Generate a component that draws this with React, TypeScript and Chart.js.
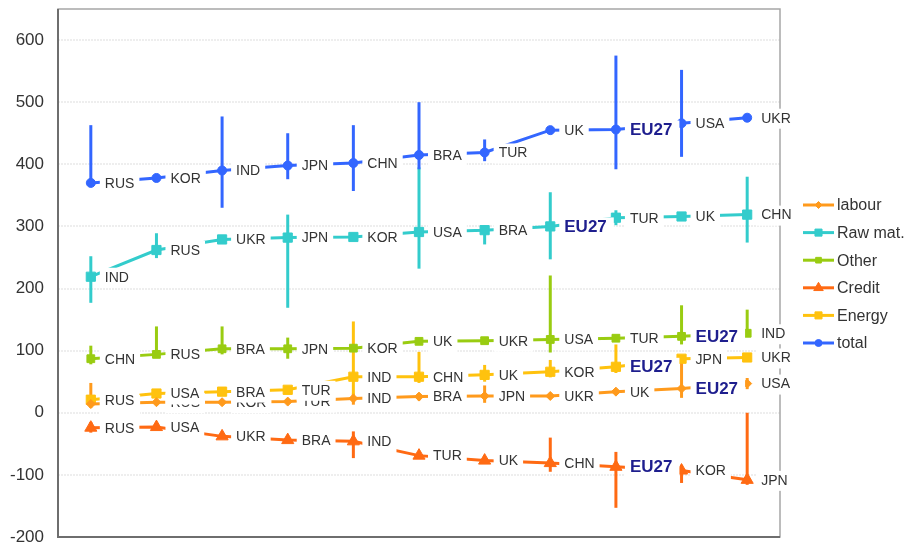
import React, { useEffect, useRef } from 'react';
import { Chart, registerables } from 'chart.js';
import { drawPoint } from 'chart.js/helpers';

Chart.register(...registerables);

const FONT = '"Liberation Sans", Arial, sans-serif';

const slots = ['1', '2', '3', '4', '5', '6', '7', '8', '9', '10', '11'];
const yTicks = [-200, -100, 0, 100, 200, 300, 400, 500, 600];

const labourNames = ['CHN', 'RUS', 'KOR', 'TUR', 'IND', 'BRA', 'JPN', 'UKR', 'UK', 'EU27', 'USA'];
const labourValues = [14, 17, 17, 18, 23, 26, 27, 27, 34, 39, 47];
const labourHigh = [48, 20, 20, 21, 31, 31, 44, 30, 37, 90, 56];
const labourLow = [8, 14, 14, 15, 13, 20, 16, 24, 31, 24, 38];

const rawNames = ['IND', 'RUS', 'UKR', 'JPN', 'KOR', 'USA', 'BRA', 'EU27', 'TUR', 'UK', 'CHN'];
const rawValues = [219, 262, 279, 282, 283, 291, 294, 300, 314, 316, 319];
const rawHigh = [252, 289, 281, 319, 285, 395, 302, 355, 326, 318, 380];
const rawLow = [177, 249, 277, 169, 281, 232, 271, 247, 302, 314, 274];

const otherNames = ['CHN', 'RUS', 'BRA', 'JPN', 'KOR', 'UK', 'UKR', 'USA', 'TUR', 'EU27', 'IND'];
const otherValues = [87, 94, 103, 103, 104, 115, 116, 118, 120, 123, 128];
const otherHigh = [108, 139, 139, 121, 106, 117, 118, 221, 122, 173, 166];
const otherLow = [78, 92, 94, 87, 102, 113, 114, 97, 118, 110, 124];

const creditNames = ['RUS', 'USA', 'UKR', 'BRA', 'IND', 'TUR', 'UK', 'CHN', 'EU27', 'KOR', 'JPN'];
const creditValues = [-24, -23, -38, -44, -46, -69, -77, -81, -87, -93, -108];
const creditHigh = [-15, -19, -35, -41, -30, -66, -74, -40, -63, -84, 0];
const creditLow = [-32, -28, -41, -47, -73, -72, -80, -95, -153, -113, -116];

const energyNames = ['RUS', 'USA', 'BRA', 'TUR', 'IND', 'CHN', 'UK', 'KOR', 'EU27', 'JPN', 'UKR'];
const energyValues = [21, 31, 34, 37, 58, 58, 61, 66, 74, 87, 89];
const energyHigh = [24, 37, 37, 39, 147, 98, 77, 85, 110, 90, 90];
const energyLow = [12, 26, 31, 35, 20, 48, 50, 57, 64, 84, 88];

const totalNames = ['RUS', 'KOR', 'IND', 'JPN', 'CHN', 'BRA', 'TUR', 'UK', 'EU27', 'USA', 'UKR'];
const totalValues = [370, 378, 390, 398, 402, 415, 419, 455, 456, 466, 475];
const totalHigh = [463, 382, 477, 450, 463, 500, 440, 455, 575, 552, 475];
const totalLow = [365, 374, 330, 376, 357, 392, 405, 455, 392, 412, 475];

type Series = {
  label: string;
  color: string;
  style: string;
  radius: number;
  names: string[];
  values: number[];
  high: number[];
  low: number[];
};

const series: Series[] = [
  { label: 'labour', color: '#FF9A1C', style: 'rectRot', radius: 4.5, names: labourNames, values: labourValues, high: labourHigh, low: labourLow },
  { label: 'Raw mat.', color: '#33CCCC', style: 'rect', radius: 6.5, names: rawNames, values: rawValues, high: rawHigh, low: rawLow },
  { label: 'Other', color: '#99CC11', style: 'rect', radius: 5.5, names: otherNames, values: otherValues, high: otherHigh, low: otherLow },
  { label: 'Credit', color: '#FF6A13', style: 'triangle', radius: 7, names: creditNames, values: creditValues, high: creditHigh, low: creditLow },
  { label: 'Energy', color: '#FFC20E', style: 'rect', radius: 6.5, names: energyNames, values: energyValues, high: energyHigh, low: energyLow },
  { label: 'total', color: '#3366FF', style: 'circle', radius: 4.5, names: totalNames, values: totalValues, high: totalHigh, low: totalLow },
];

const overlay = {
  id: 'overlay',
  beforeDatasetsDraw(chart: any) {
    const { ctx, chartArea: a, scales } = chart;
    const x = scales.x;
    const y = scales.y;
    ctx.save();
    // plot box
    ctx.strokeStyle = '#a6a6a6';
    ctx.lineWidth = 1.5;
    ctx.strokeRect(a.left, a.top, a.right - a.left, a.bottom - a.top);
    ctx.strokeStyle = '#6e6e6e';
    ctx.lineWidth = 2;
    ctx.beginPath();
    ctx.moveTo(a.left, a.top);
    ctx.lineTo(a.left, a.bottom);
    ctx.lineTo(a.right, a.bottom);
    ctx.stroke();
    // error bars
    series.forEach((s) => {
      ctx.strokeStyle = s.color;
      ctx.lineWidth = 3;
      ctx.lineCap = 'butt';
      s.values.forEach((_v, i) => {
        if (s.high[i] === s.low[i]) return;
        const px = x.getPixelForValue(i);
        ctx.beginPath();
        ctx.moveTo(px, y.getPixelForValue(s.high[i]));
        ctx.lineTo(px, y.getPixelForValue(s.low[i]));
        ctx.stroke();
      });
    });
    ctx.restore();
  },
  afterDatasetsDraw(chart: any) {
    const { ctx, chartArea: a } = chart;
    ctx.save();
    ctx.textBaseline = 'middle';
    ctx.textAlign = 'left';
    series.forEach((s, di) => {
      const meta = chart.getDatasetMeta(di);
      s.names.forEach((name, i) => {
        const pt = meta.data[i];
        const bold = name === 'EU27';
        ctx.font = bold ? `bold 17px ${FONT}` : `14px ${FONT}`;
        const tw = ctx.measureText(name).width;
        const tx = pt.x + 14;
        const cy = pt.y + 1;
        ctx.fillStyle = '#ffffff';
        ctx.fillRect(pt.x + 9, cy - 10, tw + 5 + (bold ? 7 : 5), 20);
        ctx.fillStyle = bold ? '#1E1E8E' : '#333333';
        ctx.fillText(name, tx, cy);
      });
    });
    // legend
    const lx = a.right + 23;
    const ly = a.top + 196;
    series.forEach((s, i) => {
      const yy = ly + i * 27.6;
      ctx.strokeStyle = s.color;
      ctx.lineWidth = 3;
      ctx.beginPath();
      ctx.moveTo(lx, yy);
      ctx.lineTo(lx + 31, yy);
      ctx.stroke();
      ctx.fillStyle = s.color;
      ctx.lineWidth = 1;
      drawPoint(ctx, { pointStyle: s.style as any, radius: Math.max(3.5, s.radius - 1.5), rotation: 0, borderWidth: 1 } as any, lx + 15.5, yy);
      ctx.fillStyle = '#333333';
      ctx.font = `16px ${FONT}`;
      ctx.fillText(s.label, lx + 34, yy + 1);
    });
    ctx.restore();
  },
};

export default function App() {
  const ref = useRef<HTMLCanvasElement | null>(null);
  useEffect(() => {
    document.body.style.margin = '0';
    const canvas = ref.current;
    if (!canvas) return;
    const chart = new Chart(canvas, {
      type: 'line',
      data: {
        labels: slots,
        datasets: series.map((s) => ({
          label: s.label,
          data: s.values,
          borderColor: s.color,
          backgroundColor: s.color,
          pointBackgroundColor: s.color,
          pointBorderColor: s.color,
          pointBorderWidth: 1,
          pointStyle: s.style as any,
          pointRadius: s.radius,
          borderWidth: 3,
          tension: 0,
          fill: false,
        })),
      },
      options: {
        responsive: false,
        animation: false,
        devicePixelRatio: 1,
        layout: { padding: { top: 9, right: 127, bottom: 9, left: 0 } },
        plugins: {
          legend: { display: false },
          tooltip: { enabled: false },
        },
        scales: {
          x: {
            type: 'category',
            display: false,
            offset: true,
            grid: { display: false },
          },
          y: {
            type: 'linear',
            min: -200,
            max: 650,
            afterBuildTicks: (scale: any) => {
              scale.ticks = yTicks.map((v) => ({ value: v }));
            },
            afterFit: (scale: any) => {
              scale.width = 58;
              scale.paddingTop = 0;
              scale.paddingBottom = 0;
            },
            border: { display: false, dash: [2, 1] },
            grid: { color: '#eeeeee', lineWidth: 2, drawTicks: false },
            ticks: {
              padding: 14,
              color: '#333333',
              font: { family: FONT, size: 17 },
            },
          },
        },
      },
      plugins: [overlay],
    });
    return () => chart.destroy();
  }, []);
  return (
    <div style={{ width: 907, height: 546 }}>
      <canvas ref={ref} width={907} height={546} style={{ display: 'block' }} />
    </div>
  );
}
